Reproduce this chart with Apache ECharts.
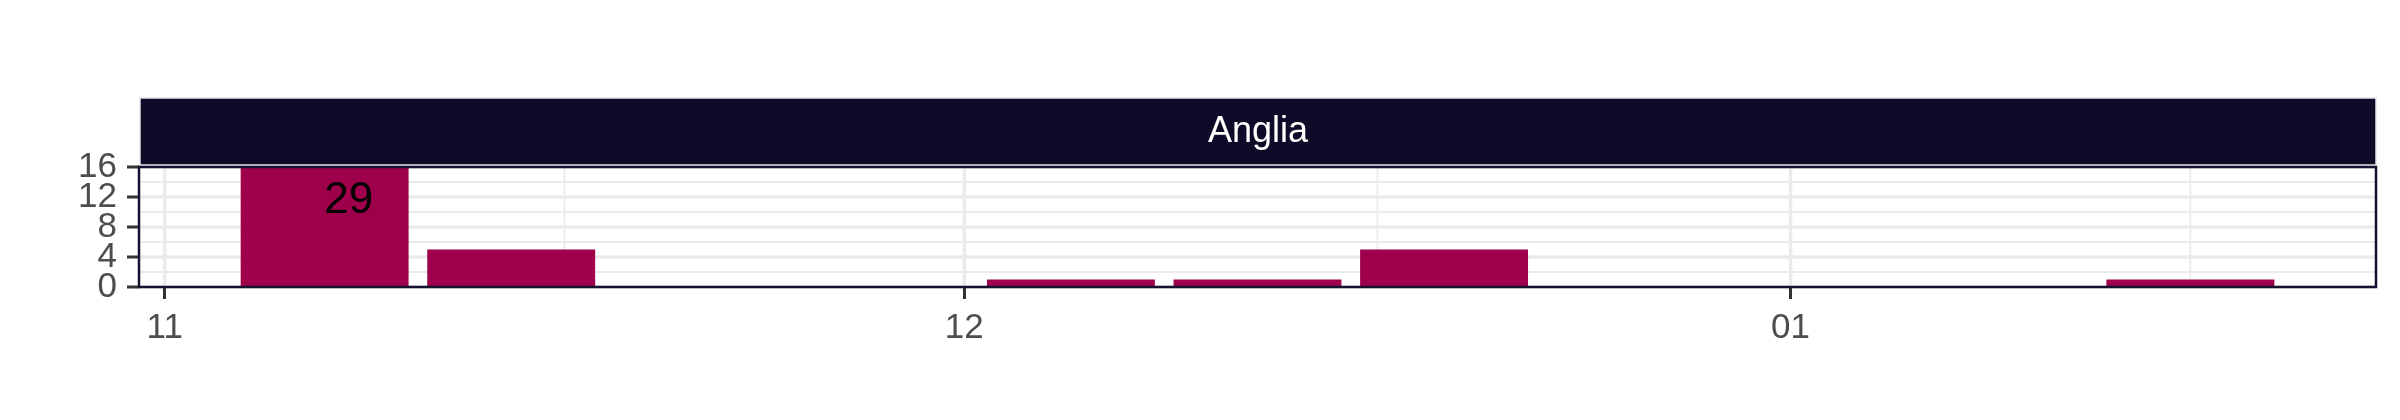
<!DOCTYPE html>
<html>
<head>
<meta charset="utf-8">
<script src="https://cdn.jsdelivr.net/npm/echarts@6/dist/echarts.min.js"></script>
<style>
  html, body { margin: 0; padding: 0; background: #ffffff; }
  #chart { width: 2400px; height: 420px; }
</style>
</head>
<body>
<div id="chart"></div>
<script>
// ---- data ----
const weeks = ['2020-11-07', '2020-11-14', '2020-12-05', '2020-12-12', '2020-12-19', '2021-01-16'];
const counts = [29, 5, 1, 1, 5, 1];
const xBreaks = ['2020-11-01', '2020-12-01', '2021-01-01'];
const xTickLabels = ['11', '12', '01'];
const xMinorBreaks = ['2020-11-16', '2020-12-16T12:00:00', '2021-01-16'];
const yTicks = [0, 4, 8, 12, 16];
const panelTitle = 'Anglia';

// ---- helpers ----
const DAY = 86400000;
const toMs = s => Date.parse(s + (s.length === 10 ? 'T00:00:00Z' : 'Z'));
const barWidthMs = 0.9 * 7 * DAY;
const weekMs = weeks.map(toMs);
const breakMs = xBreaks.map(toMs);
const minorMs = xMinorBreaks.map(toMs);
const dataMin = Math.min(...weekMs) - barWidthMs / 2;
const dataMax = Math.max(...weekMs) + barWidthMs / 2;
const pad = (dataMax - dataMin) * 0.05;
const xMin = dataMin - pad, xMax = dataMax + pad;
const yMin = yTicks[0], yMax = yTicks[yTicks.length - 1];

const FONT = '"Liberation Sans", Arial, Helvetica, sans-serif';
const BAR_COLOR = '#9E004C';
const STRIP_COLOR = '#0E0A28';
const GRID_COLOR = '#EBEBEB';
const BORDER_COLOR = '#15112F';
const TICK_COLOR = '#333333';
const LABEL_COLOR = '#4D4D4D';

const PANEL = { left: 139, right: 2376, top: 167, bottom: 287 };

const chart = echarts.init(document.getElementById('chart'), null, { renderer: 'canvas' });

const vGrid = breakMs.map(v => [v, 3.5]).concat(minorMs.map(v => [v, 1.8]));

const option = {
  backgroundColor: '#ffffff',
  animation: false,
  textStyle: { fontFamily: FONT },
  grid: {
    left: PANEL.left,
    top: PANEL.top,
    width: PANEL.right - PANEL.left,
    height: PANEL.bottom - PANEL.top,
    show: true,
    backgroundColor: '#ffffff',
    borderWidth: 0,
    containLabel: false
  },
  xAxis: {
    type: 'value',
    min: xMin,
    max: xMax,
    axisLine: { show: false },
    axisTick: {
      show: true,
      customValues: breakMs,
      length: 12,
      lineStyle: { color: TICK_COLOR, width: 3 }
    },
    axisLabel: {
      show: true,
      customValues: breakMs,
      margin: 24,
      fontSize: 35,
      color: LABEL_COLOR,
      fontFamily: FONT,
      formatter: v => {
        const i = breakMs.indexOf(v);
        return i >= 0 ? xTickLabels[i] : '';
      }
    },
    splitLine: { show: false }
  },
  yAxis: {
    type: 'value',
    min: yMin,
    max: yMax,
    interval: 4,
    axisLine: { show: false },
    axisTick: { show: false },
    minorTick: { show: false, splitNumber: 2 },
    axisLabel: { show: false },
    splitLine: { show: true, lineStyle: { color: GRID_COLOR, width: 3.5 } },
    minorSplitLine: { show: true, lineStyle: { color: GRID_COLOR, width: 1.8 } }
  },
  graphic: [
    {
      type: 'rect',
      shape: { x: 140, y: 98, width: 2236, height: 67 },
      style: { fill: STRIP_COLOR, stroke: '#E3E3E8', lineWidth: 1.5 },
      z: 10
    },
    {
      type: 'text',
      x: (140 + 2376) / 2,
      y: 132,
      style: {
        text: panelTitle,
        fill: '#ffffff',
        fontSize: 36,
        fontFamily: FONT,
        align: 'center',
        verticalAlign: 'middle'
      },
      z: 11
    },
    {
      type: 'rect',
      shape: { x: PANEL.left, y: PANEL.top, width: PANEL.right - PANEL.left, height: PANEL.bottom - PANEL.top },
      style: { fill: 'none', stroke: BORDER_COLOR, lineWidth: 2.5 },
      z: 20,
      silent: true
    }
  ],
  series: [
    {
      name: 'vgrid',
      type: 'custom',
      z: 1,
      silent: true,
      data: vGrid,
      encode: { x: 0 },
      renderItem: function (params, api) {
        const x = api.coord([api.value(0), 0])[0];
        const cs = params.coordSys;
        return {
          type: 'line',
          shape: { x1: x, y1: cs.y, x2: x, y2: cs.y + cs.height },
          style: { stroke: GRID_COLOR, lineWidth: api.value(1) }
        };
      }
    },
    {
      name: 'yticks',
      type: 'custom',
      z: 5,
      silent: true,
      clip: false,
      data: yTicks.map(v => [v]),
      encode: { y: 0 },
      renderItem: function (params, api) {
        const v = api.value(0);
        const y = api.coord([xMin, v])[1];
        const cs = params.coordSys;
        return {
          type: 'group',
          children: [
            {
              type: 'line',
              shape: { x1: cs.x - 12, y1: y, x2: cs.x, y2: y },
              style: { stroke: TICK_COLOR, lineWidth: 3 }
            },
            {
              type: 'text',
              x: cs.x - 22,
              y: y,
              style: {
                text: String(v),
                fill: LABEL_COLOR,
                fontSize: 35,
                fontFamily: FONT,
                align: 'right',
                verticalAlign: 'middle'
              }
            }
          ]
        };
      }
    },
    {
      name: 'cases',
      type: 'custom',
      z: 3,
      data: weekMs.map((t, i) => [t, counts[i]]),
      encode: { x: 0, y: 1 },
      renderItem: function (params, api) {
        const t = api.value(0);
        const v = api.value(1);
        const p0 = api.coord([t - barWidthMs / 2, 0]);
        const p1 = api.coord([t + barWidthMs / 2, v]);
        const cs = params.coordSys;
        const rect = echarts.graphic.clipRectByRect(
          { x: p0[0], y: p1[1], width: p1[0] - p0[0], height: p0[1] - p1[1] },
          { x: cs.x, y: cs.y, width: cs.width, height: cs.height }
        );
        if (!rect) return null;
        const children = [{
          type: 'rect',
          shape: rect,
          style: { fill: BAR_COLOR }
        }];
        if (v > yMax) {
          children.push({
            type: 'text',
            x: rect.x + rect.width / 2 + 24,
            y: rect.y + 34,
            style: {
              text: String(v),
              fill: '#000000',
              fontSize: 44,
              fontFamily: FONT,
              align: 'center',
              verticalAlign: 'middle'
            },
            z2: 5
          });
        }
        return { type: 'group', children: children };
      }
    }
  ]
};

chart.setOption(option);
</script>
</body>
</html>
